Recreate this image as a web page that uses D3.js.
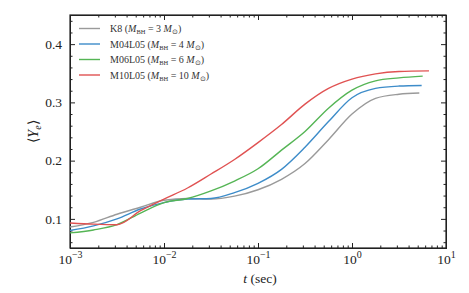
<!DOCTYPE html>
<html>
<head>
<meta charset="utf-8">
<script src="https://cdn.jsdelivr.net/npm/d3@7"></script>
<style>
  body { margin: 0; background: #fff; }
  .axis text { font-family: "Liberation Serif", serif; font-size: 13.5px; fill: #222; }
  .axis path, .axis line { stroke: #222; }
</style>
</head>
<body>
<script>
// datos: log10 de t en segundos
var logT = [-3, -2.75, -2.5, -2.25, -2, -1.75, -1.5, -1.25, -1, -0.75, -0.5, -0.25, 0, 0.25, 0.5];
// ultimo punto de cada serie (terminan en tiempos distintos)
var logTfin = [0.716, 0.741, 0.752, 0.819];

var k8     = [0.086, 0.094, 0.108, 0.120, 0.132, 0.135, 0.134, 0.139, 0.150, 0.168, 0.195, 0.236, 0.280, 0.307, 0.314, 0.316];
var m04l05 = [0.080, 0.088, 0.100, 0.117, 0.128, 0.134, 0.135, 0.145, 0.161, 0.185, 0.223, 0.267, 0.308, 0.324, 0.328, 0.329];
var m06l05 = [0.076, 0.081, 0.090, 0.110, 0.128, 0.135, 0.148, 0.165, 0.186, 0.218, 0.250, 0.290, 0.321, 0.337, 0.342, 0.345];
var m10l05 = [0.093, 0.091, 0.090, 0.114, 0.134, 0.153, 0.177, 0.202, 0.231, 0.262, 0.297, 0.324, 0.340, 0.349, 0.353, 0.354];

var nombres = ["K8", "M04L05", "M06L05", "M10L05"];
var masas = ["3", "4", "6", "10"];
var colores = ["#9a9a9a", "#3d8cc9", "#55b555", "#e05252"];
var series = [k8, m04l05, m06l05, m10l05];

var yTicks = [0.1, 0.2, 0.3, 0.4];
var xTicks = [1e-3, 1e-2, 1e-1, 1e0, 1e1];
var xExp = ["\u22123", "\u22122", "\u22121", "0", "1"];

var fuente = "Liberation Serif, serif";

var w = 469, h = 293;
var margin = {left: 70, right: 23, top: 15, bottom: 45};

var svg = d3.select("body").append("svg")
    .attr("width", w)
    .attr("height", h);

var xScale = d3.scaleLog()
    .domain([1e-3, 1e1])
    .range([margin.left, w - margin.right]);

var yScale = d3.scaleLinear()
    .domain([0.05, 0.45])
    .range([h - margin.bottom, margin.top]);

// ticks menores
var xMinor = [];
for (var e = -3; e < 1; e++) {
    for (var m = 2; m <= 9; m++) xMinor.push(m * Math.pow(10, e));
}
var yMinor = [];
for (var v = 0.06; v < 0.45; v += 0.02) {
    var r = Math.round(v * 100) / 100;
    if (Math.round(r * 100) % 10 != 0) yMinor.push(r);
}

var yBot = h - margin.bottom, yTop = margin.top;
var xIzq = margin.left, xDer = w - margin.right;

function addAxis(axis, tr) {
    return svg.append("g").attr("class", "axis")
        .attr("transform", tr).call(axis);
}

// eje x abajo
var gx = addAxis(d3.axisBottom(xScale).tickValues(xTicks).tickSize(-5).tickFormat(""), "translate(0," + yBot + ")");
gx.selectAll(".tick text").remove();
gx.selectAll(".tick").append("text")
    .attr("y", 16)
    .attr("text-anchor", "middle")
    .attr("fill", "#222")
    .each(function(d, i) {
        var t = d3.select(this);
        t.append("tspan").text("10");
        t.append("tspan").attr("dy", -6).attr("font-size", "10px").text(xExp[i]);
    });
addAxis(d3.axisBottom(xScale).tickValues(xMinor).tickSize(-2.5).tickFormat(""), "translate(0," + yBot + ")");
addAxis(d3.axisTop(xScale).tickValues(xTicks).tickSize(-5).tickFormat(""), "translate(0," + yTop + ")");
addAxis(d3.axisTop(xScale).tickValues(xMinor).tickSize(-2.5).tickFormat(""), "translate(0," + yTop + ")");

// eje y
addAxis(d3.axisLeft(yScale).tickValues(yTicks).tickSize(-5).tickPadding(8).tickFormat(d3.format(".1f")), "translate(" + xIzq + ",0)");
addAxis(d3.axisLeft(yScale).tickValues(yMinor).tickSize(-2.5).tickFormat(""), "translate(" + xIzq + ",0)");
addAxis(d3.axisRight(yScale).tickValues(yTicks).tickSize(-5).tickFormat(""), "translate(" + xDer + ",0)");
addAxis(d3.axisRight(yScale).tickValues(yMinor).tickSize(-2.5).tickFormat(""), "translate(" + xDer + ",0)");

svg.selectAll(".axis path").attr("stroke", "none");

// marco
svg.append("rect")
    .attr("x", xIzq).attr("y", yTop)
    .attr("width", xDer - xIzq).attr("height", yBot - yTop)
    .attr("fill", "none").attr("stroke", "#222").attr("stroke-width", 1.2);

// lineas
var linea = d3.line()
    .x(function(d) { return xScale(Math.pow(10, d[0])); })
    .y(function(d) { return yScale(d[1]); })
    .curve(d3.curveMonotoneX);

series.forEach(function(s, k) {
    var tiempos = logT.concat([logTfin[k]]);
    var puntos = s.map(function(val, i) { return [tiempos[i], val]; });
    svg.append("path")
        .datum(puntos)
        .attr("d", linea)
        .attr("fill", "none")
        .attr("stroke", colores[k])
        .attr("stroke-width", 1.4);
});

// leyenda
var leg = svg.append("g").attr("font-family", fuente).attr("font-size", "10px").attr("fill", "#333");
nombres.forEach(function(n, k) {
    var yy = 28.5 + k * 15.5;
    leg.append("line")
        .attr("x1", 79).attr("x2", 100)
        .attr("y1", yy).attr("y2", yy)
        .attr("stroke", colores[k]).attr("stroke-width", 1.4);
    var t = leg.append("text").attr("x", 110).attr("y", yy + 3.5);
    t.append("tspan").text(n + " (");
    t.append("tspan").attr("font-style", "italic").text("M");
    t.append("tspan").attr("font-size", "6.5px").attr("dy", 2).text("BH");
    t.append("tspan").attr("dy", -2).text(" = " + masas[k] + " ");
    t.append("tspan").attr("font-style", "italic").text("M");
    t.append("tspan").attr("font-size", "7px").attr("dy", 2).text("\u2299");
    t.append("tspan").attr("dy", -2).text(")");
});

// titulos de ejes
svg.append("text")
    .attr("x", (xIzq + xDer) / 2 + 2).attr("y", 283)
    .attr("text-anchor", "middle")
    .attr("font-family", fuente).attr("font-size", "13.5px").attr("fill", "#222")
    .call(function(t) {
        t.append("tspan").attr("font-style", "italic").text("t");
        t.append("tspan").text(" (sec)");
    });

var yl = svg.append("text")
    .attr("transform", "translate(38," + ((yTop + yBot) / 2) + ") rotate(-90)")
    .attr("text-anchor", "middle")
    .attr("font-family", fuente).attr("font-size", "14px").attr("fill", "#222");
yl.append("tspan").text("\u27E8");
yl.append("tspan").attr("font-style", "italic").text("Y");
yl.append("tspan").attr("font-style", "italic").attr("font-size", "10px").attr("dy", 3).text("e");
yl.append("tspan").attr("dy", -3).text("\u27E9");
</script>
</body>
</html>
